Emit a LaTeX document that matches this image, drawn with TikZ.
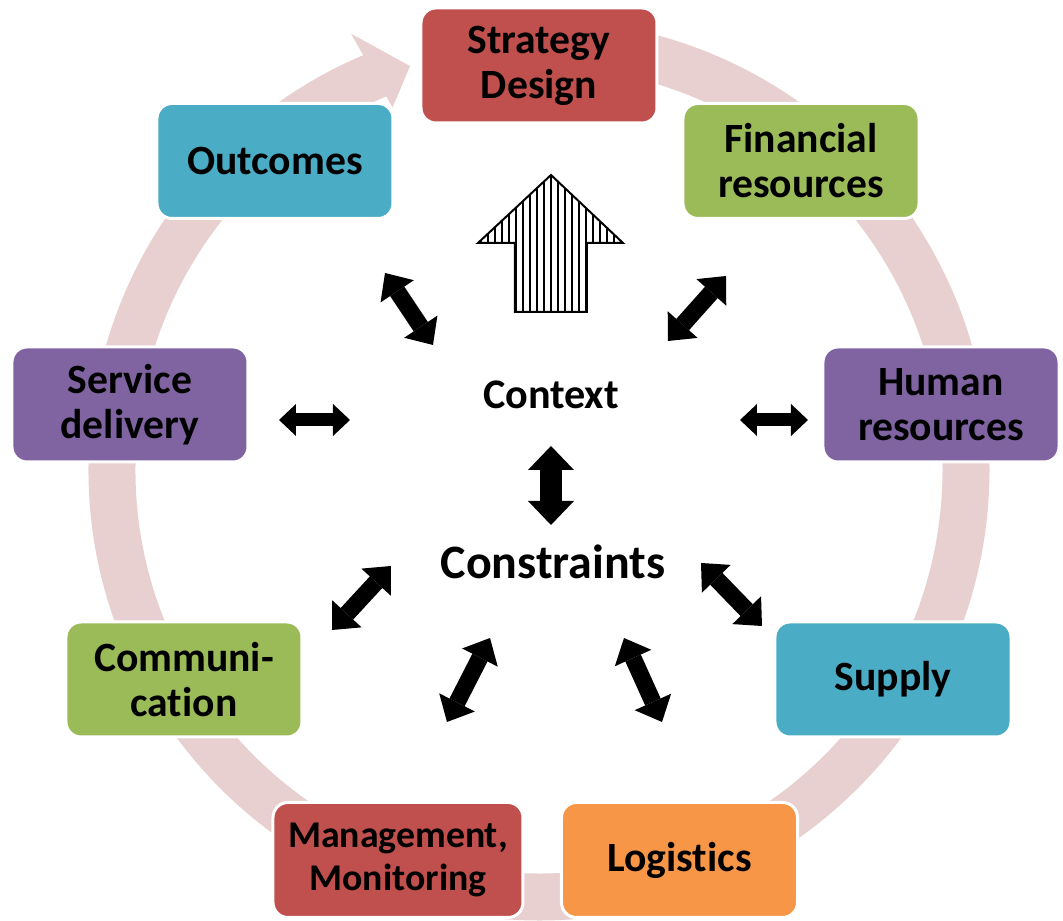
\documentclass[tikz,border=0pt]{standalone}
\usepackage{fontspec}
\setmainfont[Ligatures={NoCommon}]{Carlito}
\usetikzlibrary{arrows.meta}
\definecolor{cyRed}{RGB}{192,80,77}
\definecolor{cyGreen}{RGB}{155,187,89}
\definecolor{cyPurple}{RGB}{128,100,162}
\definecolor{cyAqua}{RGB}{75,172,198}
\definecolor{cyOrange}{RGB}{247,150,70}
\definecolor{cyRing}{RGB}{232,207,208}

\begin{document}
\begin{tikzpicture}[
  x=0.2mm, y=0.2mm,
  box/.style={draw=white, line width=0.6mm, rounded corners=3mm, minimum width=47.2mm, minimum height=23mm, inner sep=0pt, align=center, font=\fontsize{23.7pt}{25.6pt}\selectfont\bfseries},
  ctxlbl/.style={inner sep=0pt, font=\fontsize{24pt}{28pt}\selectfont\bfseries},
  conlbl/.style={inner sep=0pt, font=\fontsize{27.3pt}{30pt}\selectfont\bfseries},
  dbl/.style={line width=3.4mm, <->, >={Triangle[length=4.4mm,width=8mm,line width=0pt]}},
  dblS/.style={line width=2.6mm, <->, >={Triangle[length=3.4mm,width=6.4mm,line width=0pt]}},
  dblL/.style={line width=4.4mm, <->, >={Triangle[length=4.8mm,width=9.2mm,line width=0pt]}}
]
\useasboundingbox (-539,-451) rectangle (524,470);

%============ RING ============
\draw[cyRing, line width=9.4mm] (85:427) arc[start angle=85, end angle=-248, radius=427];
\fill[cyRing] (112:391) -- (113.3:475) -- (107.7:424) -- cycle;

%============ STAGES ============
\node[box, fill=cyRed] (strat) at (0,404.5) {Strategy\\Design};
\node[box, fill=cyGreen] (fin) at (262,309) {Financial\\resources};
\node[box, fill=cyPurple] (hum) at (402,65.5) {Human\\resources};
\node[box, fill=cyAqua] (sup) at (354,-209.5) {Supply};
\node[box, fill=cyOrange] (logi) at (140.5,-390) {Logistics};
\node[box, fill=cyRed, minimum width=50mm, font=\fontsize{21.5pt}{24.5pt}\selectfont\bfseries] (mgmt) at (-141,-390) {Management,\\Monitoring};
\node[box, fill=cyGreen] (comm) at (-355,-209.5) {Communi-\\cation};
\node[box, fill=cyPurple] (serv) at (-409,65.5) {Service\\delivery};
\node[box, fill=cyAqua] (outc) at (-264,309) {Outcomes};

%============ CENTRE ============
\node[ctxlbl] (ctx) at (12,75) {Context};
\node[conlbl] (cons) at (14,-91.5) {Constraints};
% striped arrow
\begin{scope}
  \clip (12,295) -- (84,227) -- (48,227) -- (48,158) -- (-24,158) -- (-24,227) -- (-61,227) -- cycle;
  \foreach \sx in {-58,-51,...,84}
    \draw[line width=0.48mm] (\sx,150) -- (\sx,300);
\end{scope}
\draw[line width=0.4mm, line join=miter]
  (12,295) -- (84,227) -- (48,227) -- (48,158) -- (-24,158) -- (-24,227) -- (-61,227) -- cycle;

% link ends
\coordinate (outcA) at (-154,197);  \coordinate (outcB) at (-106,125);
\coordinate (finA) at (187,194);    \coordinate (finB) at (129,129);
\coordinate (servA) at (-260,50);   \coordinate (servB) at (-189,50);
\coordinate (humA) at (201,50);     \coordinate (humB) at (269,50);
\coordinate (ctxA) at (12,24);      \coordinate (ctxB) at (12,-55);
\coordinate (commA) at (-148,-96);  \coordinate (commB) at (-207,-160);
\coordinate (supA) at (162,-93);    \coordinate (supB) at (223,-156);
\coordinate (mgmtA) at (-49,-168);  \coordinate (mgmtB) at (-92,-252);
\coordinate (logiA) at (85,-168);   \coordinate (logiB) at (123,-252);

% links
\draw[dbl] (outcA) -- (outcB);
\draw[dbl] (finA) -- (finB);
\draw[dblS] (servA) -- (servB);
\draw[dblS] (humA) -- (humB);
\draw[dblL] (ctxA) -- (ctxB);
\draw[dbl] (commA) -- (commB);
\draw[dbl] (supA) -- (supB);
\draw[dbl] (mgmtA) -- (mgmtB);
\draw[dbl] (logiA) -- (logiB);

\end{tikzpicture}
\end{document}
